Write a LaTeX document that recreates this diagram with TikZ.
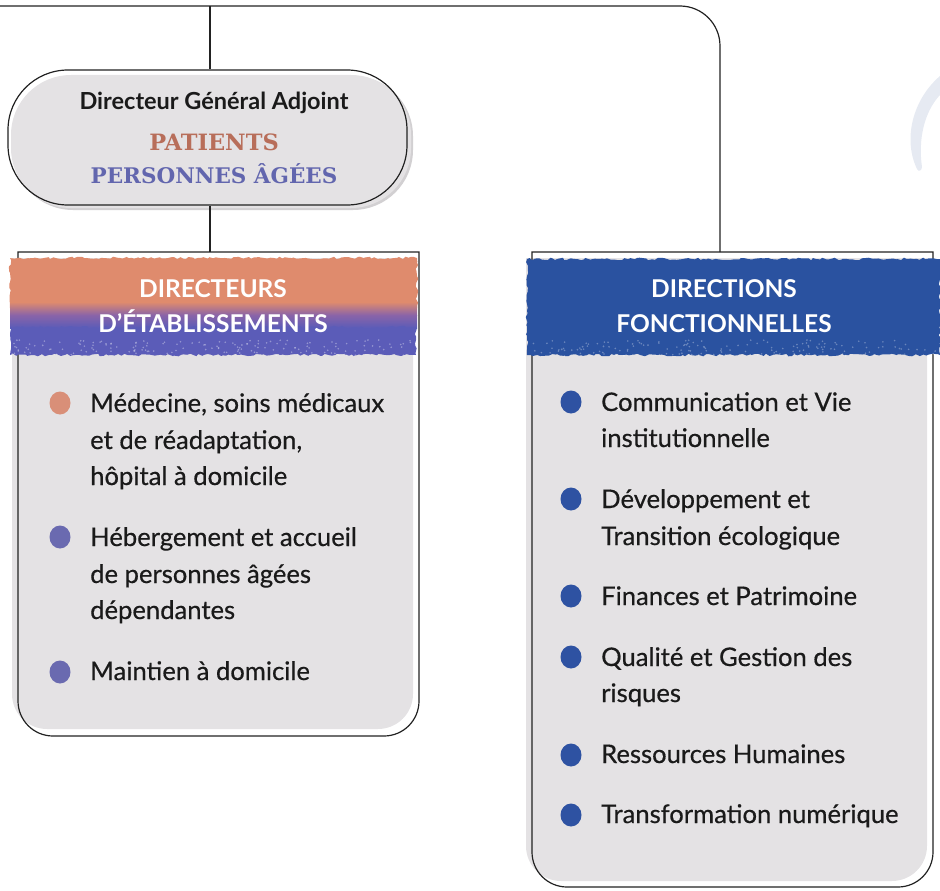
\documentclass[tikz,border=0pt]{standalone}
\usepackage{fontspec}
\setmainfont{Lato}
\newfontfamily\latomed[FakeBold=0.5]{Lato}
\newfontfamily\slab{DejaVu Serif}
\usetikzlibrary{decorations.pathmorphing}
\definecolor{boxgray}{HTML}{E4E2E4}
\definecolor{shadowgray}{HTML}{D2D0D2}
\definecolor{salmon}{HTML}{DF8B6D}
\definecolor{midviolet}{HTML}{8A64A8}
\definecolor{violet}{HTML}{5B5CB8}
\definecolor{navy}{HTML}{2A52A0}
\definecolor{patc}{HTML}{B86E5A}
\definecolor{pagc}{HTML}{6266AE}
\definecolor{bulS}{HTML}{D98F78}
\definecolor{bulV}{HTML}{6A6AB0}
\definecolor{bulB}{HTML}{2E52A2}
\definecolor{crescentc}{HTML}{E6EAF2}
\definecolor{ink}{HTML}{1A1A1A}
\definecolor{edge}{HTML}{222222}
\tikzset{
  conn/.style={draw=edge, line width=1.2pt},
  outline/.style={draw=edge, line width=1.2pt},
  item/.style={anchor=base west, inner sep=0pt, text=ink, font=\latomed\fontsize{25.6}{30}\selectfont},
  hdr/.style={anchor=base, inner sep=0pt, text=white, font=\bfseries\fontsize{24.5}{28}\selectfont},
  brush/.style={decorate, decoration={random steps, segment length=3pt, amplitude=1.3pt}},
  dot/.style={ellipse, minimum width=21pt, minimum height=23pt, inner sep=0pt},
}
\usetikzlibrary{shapes.geometric}
\begin{document}
\begin{tikzpicture}[x=1pt,y=-1pt]
\useasboundingbox (0,0) rectangle (940,891);

% decorative crescent
\fill[crescentc] (917,169) .. controls (903,140) and (912,100) .. (940,76)
  -- (940,95) .. controls (924,112) and (918,140) .. (922,167)
  .. controls (922,171) and (918,172) .. (917,169) -- cycle;

% ---------- top pill ----------
\fill[shadowgray, rounded corners=60] (13,76) rectangle (413,210);
\fill[boxgray, rounded corners=60] (11,75) rectangle (411,208);
\node[outline, rectangle, rounded corners=60, minimum width=399pt, minimum height=135pt, inner sep=0pt]
  (dga) at (207.5,137.5) {};
\node[anchor=base, inner sep=0pt, text=ink, font=\bfseries\fontsize{23.5}{28}\selectfont] (dgat) at (214,110) {Directeur Général Adjoint};
\node[anchor=base, inner sep=0pt, text=patc, font=\slab\bfseries\fontsize{22.5}{26}\selectfont] (pat) at (214,150) {PATIENTS};
\node[anchor=base, inner sep=0pt, text=pagc, font=\slab\bfseries\fontsize{21.5}{26}\selectfont] (pag) at (214,183) {PERSONNES ÂGÉES};

% ---------- left box ----------
\fill[boxgray] (12,258) -- (12,694) arc[start angle=180,end angle=90,radius=35] -- (378,729)
  arc[start angle=90,end angle=0,radius=35] -- (413,258) -- cycle;
\draw[outline] (18,252) -- (18,701) arc[start angle=180,end angle=90,radius=35] -- (384,736)
  arc[start angle=90,end angle=0,radius=35] -- (419,252) -- cycle;
\coordinate (lt) at (210,252);

% left header (brush)
\fill[salmon, brush] (10,258) rectangle (417,308);
\shade[top color=salmon, bottom color=midviolet] (10,302) rectangle (417,315);
\shade[top color=midviolet, bottom color=violet] (10,315) rectangle (417,328);
\fill[violet, brush] (10,327) rectangle (416,355);
\pgfmathsetseed{11}
\foreach \i in {1,...,160}{
  \pgfmathsetmacro\xx{12+402*rnd}
  \pgfmathsetmacro\yy{340+16*rnd}
  \fill[white, opacity=0.35] (\xx,\yy) circle (0.9);
}
\node[hdr] (lh1) at (213,297) {DIRECTEURS};
\node[hdr] (lh2) at (213,332) {D’ÉTABLISSEMENTS};

% left items
\node[dot, fill=bulS] (lb1) at (60,403) {};
\node[item] (l11) at (90,412) {Médecine, soins médicaux};
\node[item] (l12) at (90,449) {et de réadaptation,};
\node[item] (l13) at (90,485) {hôpital à domicile};
\node[dot, fill=bulV] (lb2) at (60,537) {};
\node[item] (l21) at (90,546) {Hébergement et accueil};
\node[item] (l22) at (90,583) {de personnes âgées};
\node[item] (l23) at (90,619) {dépendantes};
\node[dot, fill=bulV] (lb3) at (60,672) {};
\node[item] (l31) at (90,680) {Maintien à domicile};

% ---------- right box ----------
\fill[boxgray] (526,258) -- (526,846) arc[start angle=180,end angle=90,radius=35] -- (892,881)
  arc[start angle=90,end angle=0,radius=35] -- (927,258) -- cycle;
\draw[outline] (532,252) -- (532,852) arc[start angle=180,end angle=90,radius=35] -- (898,887)
  arc[start angle=90,end angle=0,radius=35] -- (933,252) -- cycle;
\coordinate (rt) at (720,252);

\fill[navy, brush] (527,259) rectangle (940,355);
\pgfmathsetseed{5}
\foreach \i in {1,...,160}{
  \pgfmathsetmacro\xx{529+409*rnd}
  \pgfmathsetmacro\yy{340+16*rnd}
  \fill[white, opacity=0.3] (\xx,\yy) circle (0.9);
}
\node[hdr] (rh1) at (724,297) {DIRECTIONS};
\node[hdr] (rh2) at (724,332) {FONCTIONNELLES};

% right items
\node[dot, fill=bulB] (rb1) at (571,402) {};
\node[item] (r11) at (601,411) {Communication et Vie};
\node[item] (r12) at (601,447) {institutionnelle};
\node[dot, fill=bulB] (rb2) at (571,499) {};
\node[item] (r21) at (601,508) {Développement et};
\node[item] (r22) at (601,545) {Transition écologique};
\node[dot, fill=bulB] (rb3) at (571,596) {};
\node[item] (r31) at (601,605) {Finances et Patrimoine};
\node[dot, fill=bulB] (rb4) at (571,657) {};
\node[item] (r41) at (601,666) {Qualité et Gestion des};
\node[item] (r42) at (601,702) {risques};
\node[dot, fill=bulB] (rb5) at (571,755) {};
\node[item] (r51) at (601,763) {Ressources Humaines};
\node[dot, fill=bulB] (rb6) at (571,815) {};
\node[item] (r61) at (601,823) {Transformation numérique};

% ---------- connectors ----------
\coordinate (o) at (0,6);
\coordinate (j) at (210,6);
\draw[conn, rounded corners=40] (o) -- (rt |- o) -- (rt);
\draw[conn] (j) -- (dga.north -| j);
\draw[conn] (dga.south -| lt) -- (lt);
\end{tikzpicture}
\end{document}
